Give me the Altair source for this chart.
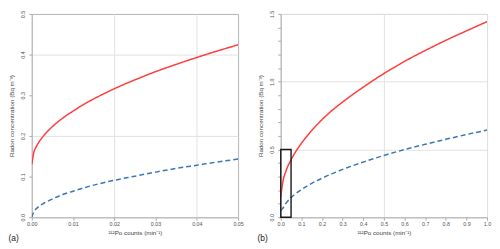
import altair as alt
import pandas as pd

# ---- panel (a) data ----
a_x = [0, 0.0005, 0.001, 0.002, 0.003, 0.005, 0.0075, 0.01, 0.0125, 0.015,
       0.02, 0.025, 0.03, 0.035, 0.04, 0.045, 0.05]
a_red = [0.130, 0.160, 0.172, 0.189, 0.202, 0.223, 0.244, 0.261, 0.277, 0.291,
         0.316, 0.338, 0.358, 0.376, 0.393, 0.409, 0.424]
a_blue = [0.000, 0.014, 0.020, 0.029, 0.035, 0.045, 0.056, 0.064, 0.072, 0.079,
          0.091, 0.101, 0.111, 0.120, 0.128, 0.136, 0.143]

# ---- panel (b) data ----
b_x = [0, 0.01, 0.025, 0.05, 0.075, 0.1, 0.15, 0.2, 0.25, 0.3,
       0.4, 0.5, 0.6, 0.7, 0.8, 0.9, 1.0]
b_red = [0.15, 0.26, 0.34, 0.424, 0.49, 0.545, 0.64, 0.72, 0.79, 0.85,
         0.96, 1.06, 1.15, 1.23, 1.305, 1.375, 1.443]
b_blue = [0.05, 0.066, 0.102, 0.145, 0.177, 0.204, 0.25, 0.288, 0.322, 0.353,
          0.407, 0.456, 0.499, 0.538, 0.575, 0.61, 0.643]

# zoom box drawn in panel (b)
box_x = [0.0, 0.05]
box_y = [0.0, 0.5]

# tick values
a_xticks = [0.0, 0.01, 0.02, 0.03, 0.04, 0.05]
a_yticks = [0.0, 0.1, 0.2, 0.3, 0.4, 0.5]
b_xticks = [0.0, 0.1, 0.2, 0.3, 0.4, 0.5, 0.6, 0.7, 0.8, 0.9, 1.0]
b_yticks = [0.0, 0.1, 0.2, 0.3, 0.4, 0.5, 0.6, 0.7, 0.8, 0.9, 1.0,
            1.1, 1.2, 1.3, 1.4, 1.5]

series = ["Rn_red", "Rn_blue"]
colors = ["#ff3d3d", "#3b77b6"]
dashes = [[1, 0], [5, 3]]

YTITLE = "Radon concentration (Bq m\u207b\u00b3)"
XTITLE = "\u00b2\u00b9\u00b2Po counts (min\u207b\u00b9)"

W, H = 208, 205
LBL = 5.4
TTL = 6.3

def long_df(xs, red, blue):
    rows = []
    for x, r in zip(xs, red):
        rows.append({"x": x, "y": r, "s": series[0]})
    for x, b in zip(xs, blue):
        rows.append({"x": x, "y": b, "s": series[1]})
    return pd.DataFrame(rows)

def cond(test):
    return {"condition": {"test": test, "value": 1}, "value": 0}

common_axis = dict(
    labelFontSize=LBL, labelColor="#555", tickSize=3, tickColor="#aaa",
    domainColor="#b5b5b5", gridColor="#e2e2e2", titleFontSize=TTL,
    titleFontWeight="normal", titleColor="#444", labelOverlap=False,
    labelBound=False, labelFlush=False,
)

def panel(df, xticks, yticks, xmax, ymax, xfmt, xgrid, ygrid, ylabel, title, box=None):
    xaxis = alt.Axis(values=xticks, labelExpr="format(datum.value, '%s')" % xfmt,
                     title=XTITLE, titlePadding=3,
                     labelPadding=1.5, gridOpacity=cond(xgrid), **common_axis)
    yaxis = alt.Axis(values=yticks, labelExpr=ylabel, title=YTITLE, titlePadding=6.5,
                     labelPadding=3, labelAngle=270, labelAlign="center",
                     labelBaseline="bottom", gridOpacity=cond(ygrid), **common_axis)
    xs = alt.Scale(domain=[0, xmax], nice=False)
    ys = alt.Scale(domain=[0, ymax], nice=False)
    lines = alt.Chart(df).mark_line(strokeWidth=1.5, interpolate="monotone", clip=True).encode(
        x=alt.X("x:Q", scale=xs, axis=xaxis),
        y=alt.Y("y:Q", scale=ys, axis=yaxis),
        color=alt.Color("s:N", scale=alt.Scale(domain=series, range=colors), legend=None),
        strokeDash=alt.StrokeDash("s:N", scale=alt.Scale(domain=series, range=dashes), legend=None),
    )
    layers = [lines]
    if box is not None:
        bdf = pd.DataFrame({"x": [box[0][0]], "x1": [box[0][1]],
                            "y": [box[1][0]], "y1": [box[1][1]]})
        rect = alt.Chart(bdf).mark_rect(filled=False, stroke="#1a1a1a", strokeWidth=1.4).encode(
            x=alt.X("x:Q", scale=xs, axis=xaxis), x2="x1:Q",
            y=alt.Y("y:Q", scale=ys, axis=yaxis), y2="y1:Q")
        layers.append(rect)
    return alt.layer(*layers).properties(
        width=W, height=H,
        title=alt.TitleParams(title, orient="bottom", anchor="start", frame="bounds",
                              fontSize=8.5, fontWeight="normal", color="#222",
                              offset=-2),
    )

pa = panel(long_df(a_x, a_red, a_blue), a_xticks, a_yticks, 0.05, 0.5, ".2f",
           "round(datum.value*100) % 2 == 0",
           "round(datum.value*10) % 2 == 0",
           "format(datum.value, '.1f')", "(a)")
pb = panel(long_df(b_x, b_red, b_blue), b_xticks, b_yticks, 1.0, 1.5, ".1f",
           "round(datum.value*10) % 5 == 0",
           "round(datum.value*10) % 5 == 0",
           "round(datum.value*10) % 5 == 0 ? format(datum.value, '.1f') : ''", "(b)",
           box=(box_x, box_y))

chart = alt.hconcat(pa, pb, spacing=43, bounds="flush").properties(
    padding={"left": 0, "top": 0, "right": 0, "bottom": 0}
).configure(font="Liberation Sans").configure_view(stroke="#b5b5b5", strokeWidth=1)

chart.save("out.html", embed_options={"renderer": "svg", "actions": False})
